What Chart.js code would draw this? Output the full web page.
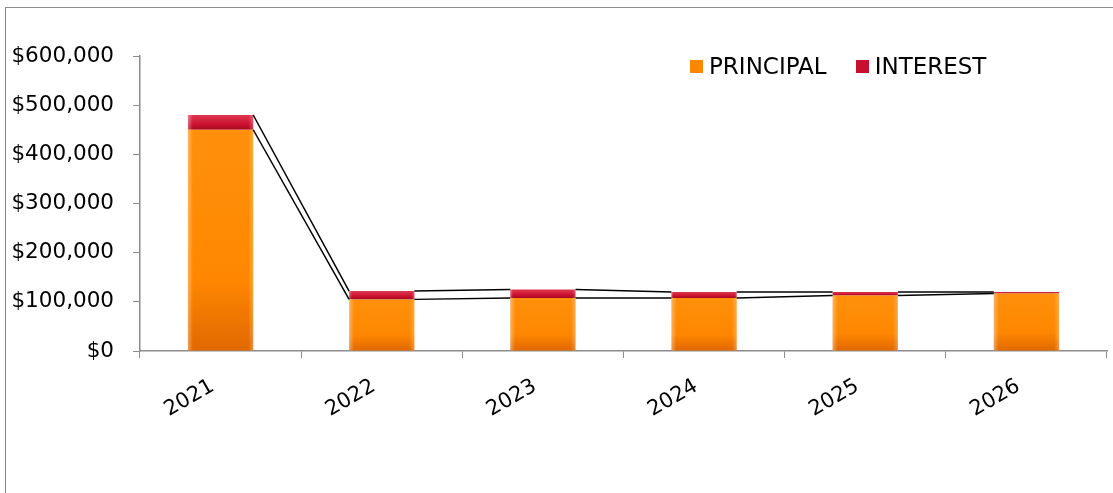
<!DOCTYPE html>
<html>
<head>
<meta charset="utf-8">
<script src="https://cdn.jsdelivr.net/npm/chart.js@4/dist/chart.umd.min.js"></script>
<style>
	html, body { margin: 0; padding: 0; background: #fff; overflow: hidden; }
	#wrap { position: relative; width: 1113px; height: 493px; }
	#frame { position: absolute; left: 5px; top: 7px; width: 1200px; height: 600px; border-left: 1px solid #8c8c8c; border-top: 1px solid #8c8c8c; pointer-events: none; }
	#legend { position: absolute; left: 690px; top: 53px; font: 23px "DejaVu Sans", Verdana, sans-serif; color: #000; white-space: nowrap; }
	#legend span.item { display: inline-block; margin-right: 29px; }
	#legend i { display: inline-block; width: 13px; height: 13px; margin-right: 6px; vertical-align: 1px; }
</style>
</head>
<body>
<div id="wrap">
	<canvas id="chart-loan" width="1113" height="493"></canvas>
	<div id="frame"></div>
	<div id="legend"></div>
</div>
<script>
// Chart data
const YEARS = ["2021", "2022", "2023", "2024", "2025", "2026"];
const PRINCIPAL = [450000, 105000, 108000, 108000, 113000, 117000];
const INTEREST = [30000, 17000, 17000, 12000, 7000, 3000];
const Y_TICKS = [0, 100000, 200000, 300000, 400000, 500000, 600000];

const FONT = "'DejaVu Sans', Verdana, sans-serif";
const AXIS_GREY = "#8c8c8c";

// Per-bar vertical gradient, built from the bar's own pixel span
const barGradient = (context, stops) => {
	const chart = context.chart;
	const { ctx, chartArea, scales } = chart;
	if (!chartArea || !context.parsed) return stops[1];
	const i = context.dataIndex;
	const base = context.datasetIndex === 0 ? 0 : PRINCIPAL[i];
	const yTop = scales.y.getPixelForValue(base + context.parsed.y);
	const yBot = scales.y.getPixelForValue(base);
	const top = Math.min(yTop, yBot - 1);
	const g = ctx.createLinearGradient(0, top, 0, yBot);
	g.addColorStop(0, stops[0]);
	g.addColorStop(0.68, stops[1]);
	g.addColorStop(1, stops[2]);
	return g;
};

// Excel style series lines joining the stacked segment tops
const seriesLines = {
	id: "seriesLines",
	afterDatasetsDraw(chart) {
		const { ctx } = chart;
		ctx.save();
		ctx.strokeStyle = "#000";
		ctx.lineWidth = 1.5;
		[0, 1].forEach((ds) => {
			const bars = chart.getDatasetMeta(ds).data;
			for (let i = 0; i < bars.length - 1; i++) {
				const a = bars[i];
				const b = bars[i + 1];
				ctx.beginPath();
				ctx.moveTo(a.x + a.width / 2, a.y);
				ctx.lineTo(b.x - b.width / 2, b.y);
				ctx.stroke();
			}
		});
		ctx.restore();
	},
};

// Soft bevel edges on each bar
const bevel = {
	id: "bevel",
	afterDatasetsDraw(chart) {
		const { ctx } = chart;
		ctx.save();
		[0, 1].forEach((ds) => {
			chart.getDatasetMeta(ds).data.forEach((bar) => {
				const left = bar.x - bar.width / 2;
				const right = bar.x + bar.width / 2;
				const top = Math.min(bar.y, bar.base);
				const h = Math.abs(bar.base - bar.y);
				const e = Math.min(5, h / 3);
				let g = ctx.createLinearGradient(left, 0, left + e, 0);
				g.addColorStop(0, "rgba(255,255,255,0.35)");
				g.addColorStop(1, "rgba(255,255,255,0)");
				ctx.fillStyle = g;
				ctx.fillRect(left, top, e, h);
				g = ctx.createLinearGradient(right - e, 0, right, 0);
				g.addColorStop(0, "rgba(255,255,255,0)");
				g.addColorStop(1, "rgba(255,255,255,0.25)");
				ctx.fillStyle = g;
				ctx.fillRect(right - e, top, e, h);
			});
		});
		ctx.restore();
	},
};

const ORANGE = ["#ff900c", "#ff8700", "#e06800"];
const RED = ["#e0374e", "#c8102e", "#a50a22"];

const CHART_DATA = {
	labels: YEARS,
	datasets: [
		{
			label: "PRINCIPAL",
			data: PRINCIPAL,
			backgroundColor: (context) => barGradient(context, ORANGE),
			borderWidth: 0,
			categoryPercentage: 1,
			barPercentage: 0.405,
		},
		{
			label: "INTEREST",
			data: INTEREST,
			backgroundColor: (context) => barGradient(context, RED),
			borderWidth: 0,
			categoryPercentage: 1,
			barPercentage: 0.405,
		},
	],
};

const CHART_CONFIG = {
	type: "bar",
	data: CHART_DATA,
	options: {
		responsive: false,
		animation: false,
		layout: {
			padding: { top: 56, right: 6, bottom: 0, left: 0 },
		},
		scales: {
			x: {
				stacked: true,
				border: { display: true, color: AXIS_GREY, width: 1.5 },
				grid: {
					display: true,
					drawOnChartArea: false,
					drawTicks: true,
					tickLength: 7,
					color: AXIS_GREY,
					offset: true,
				},
				ticks: {
					color: "#000",
					font: { family: FONT, size: 21 },
					minRotation: 30,
					maxRotation: 30,
					padding: 16,
					labelOffset: -8,
				},
				afterFit: (scale) => {
					scale.height = 142;
				},
			},
			y: {
				stacked: true,
				min: 0,
				max: Y_TICKS[Y_TICKS.length - 1],
				border: { display: true, color: AXIS_GREY, width: 1.5 },
				grid: {
					display: true,
					drawOnChartArea: false,
					drawTicks: true,
					tickLength: 7,
					color: AXIS_GREY,
				},
				afterBuildTicks: (scale) => {
					scale.ticks = Y_TICKS.map((v) => ({ value: v }));
				},
				ticks: {
					color: "#000",
					font: { family: FONT, size: 21.5 },
					padding: 19,
					callback: (value) => "$" + Number(value).toLocaleString("en-US"),
				},
				afterFit: (scale) => {
					scale.width = 140;
				},
			},
		},
		plugins: {
			legend: { display: false },
			tooltip: { enabled: false },
		},
	},
	plugins: [bevel, seriesLines],
};

const CHART_WRAPPER = document.getElementById("chart-loan");
const loanChart = new Chart(CHART_WRAPPER, CHART_CONFIG);

// Legend built from the dataset labels
const legendEl = document.getElementById("legend");
const swatch = [ORANGE[1], RED[1]];
CHART_DATA.datasets.forEach((ds, i) => {
	const item = document.createElement("span");
	item.className = "item";
	const box = document.createElement("i");
	box.style.background = swatch[i];
	item.appendChild(box);
	item.appendChild(document.createTextNode(ds.label));
	legendEl.appendChild(item);
});
</script>
</body>
</html>
